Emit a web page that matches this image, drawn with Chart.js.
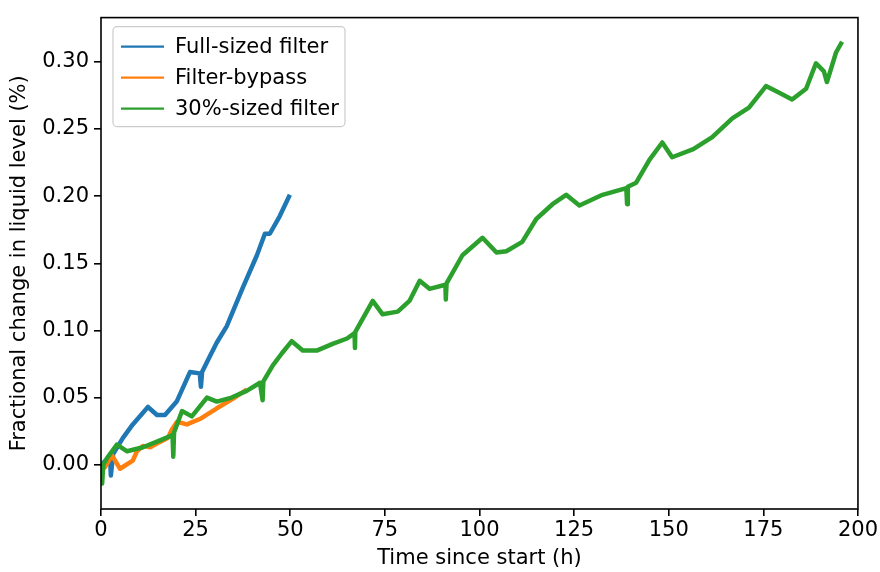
<!DOCTYPE html>
<html lang="en">
<head>
  <meta charset="UTF-8">
  <title>Fractional change in liquid level</title>
  <script src="https://cdn.jsdelivr.net/npm/chart.js"></script>
  <style>
    body {
      margin: 0;
      padding: 0;
      background-color: #ffffff;
    }
    .chart-container {
      width: 880px;
      height: 572px;
    }
  </style>
</head>
<body>
  <div class="chart-container">
    <canvas id="levelChart"></canvas>
  </div>

  <script>
    // values (time in h, change in %)
    const fullTime = [0, 1.2, 2.4, 2.6, 3.2, 5.8, 8.4, 12.4, 14.8, 16.9, 20, 23.5, 26.1, 26.4, 26.7, 28.8, 30.6, 33.2, 37.5, 41.2, 43.3, 44.6, 47.2, 49.9];
    const fullLevel = [0, 0.003, 0.006, -0.008, 0.008, 0.020, 0.030, 0.043, 0.037, 0.037, 0.047, 0.069, 0.068, 0.058, 0.069, 0.081, 0.091, 0.103, 0.132, 0.156, 0.172, 0.172, 0.185, 0.201];

    const bypassTime = [0, 1, 2.9, 5, 8.4, 9.5, 11.1, 13, 15.6, 17.7, 18.7, 20.1, 22.7, 26.1, 30.6, 34.8, 38.5];
    const bypassLevel = [0, -0.002, 0.007, -0.003, 0.003, 0.010, 0.014, 0.013, 0.017, 0.020, 0.026, 0.032, 0.030, 0.034, 0.042, 0.049, 0.056];

    const smallTime = [0, 0.3, 0.6, 1.6, 4.2, 6.9, 11.1, 16.4, 18.9, 19.1, 19.3, 21.4, 24, 28, 30.6, 34.5, 38.5, 42, 42.7, 42.9, 45.4, 47.8, 50.4, 53.3, 57, 61.2, 65, 67, 67.1, 67.2, 71.8, 74.4, 78.4, 81.5, 84.2, 86.8, 91, 91.1, 91.3, 95.5, 100.8, 104.5, 107.1, 111.3, 115, 119.3, 122.9, 126.4, 132.5, 138.8, 139, 139.2, 141.4, 144.9, 148.3, 150.9, 156.5, 161.5, 166.8, 171.2, 175.7, 179.2, 182.6, 186.3, 188.9, 191, 191.8, 194.2, 195.8];
    const smallLevel = [-0.002, -0.014, 0.000, 0.005, 0.015, 0.010, 0.013, 0.019, 0.022, 0.006, 0.024, 0.040, 0.036, 0.050, 0.047, 0.050, 0.055, 0.061, 0.048, 0.062, 0.074, 0.083, 0.092, 0.085, 0.085, 0.090, 0.094, 0.098, 0.087, 0.099, 0.122, 0.112, 0.114, 0.122, 0.137, 0.131, 0.134, 0.123, 0.135, 0.156, 0.169, 0.158, 0.159, 0.166, 0.183, 0.194, 0.201, 0.193, 0.201, 0.206, 0.194, 0.207, 0.210, 0.227, 0.240, 0.229, 0.235, 0.244, 0.258, 0.266, 0.282, 0.277, 0.272, 0.280, 0.299, 0.293, 0.285, 0.307, 0.315];

    const seriesNames = ['Full-sized filter', 'Filter-bypass', '30%-sized filter'];
    const seriesColors = ['#1f77b4', '#ff7f0e', '#2ca02c'];

    const xTicks = [0, 25, 50, 75, 100, 125, 150, 175, 200];
    const yTicks = [0, 0.05, 0.10, 0.15, 0.20, 0.25, 0.30];

    const toPoints = (xs, ys) => xs.map((x, i) => ({ x: x, y: ys[i] }));

    const FONT = "'DejaVu Sans', sans-serif";
    const FSIZE = 21;

    // matplotlib style frame around the plot
    const framePlugin = {
      id: 'frame',
      afterDraw(chart) {
        const a = chart.chartArea;
        const c = chart.ctx;
        c.save();
        c.strokeStyle = '#000';
        c.lineWidth = 1.6;
        c.strokeRect(a.left, a.top, a.right - a.left, a.bottom - a.top);
        c.restore();
      }
    };

    // legend box in the upper left corner of the plot
    const boxLegend = {
      id: 'boxLegend',
      afterDatasetsDraw(chart) {
        const a = chart.chartArea;
        const c = chart.ctx;
        const x0 = a.left + 12, y0 = a.top + 9;
        const w = 232, h = 100, row = 31;
        c.save();
        c.fillStyle = 'rgba(255,255,255,0.8)';
        c.strokeStyle = '#cccccc';
        c.lineWidth = 1.2;
        c.beginPath();
        c.roundRect(x0, y0, w, h, 4);
        c.fill();
        c.stroke();
        c.font = FSIZE + 'px ' + FONT;
        c.textBaseline = 'middle';
        chart.data.datasets.forEach((ds, i) => {
          const cy = y0 + 20 + i * row;
          c.strokeStyle = ds.borderColor;
          c.lineWidth = 2.2;
          c.beginPath();
          c.moveTo(x0 + 8, cy);
          c.lineTo(x0 + 51, cy);
          c.stroke();
          c.fillStyle = '#000';
          c.fillText(ds.label, x0 + 62, cy + 1);
        });
        c.restore();
      }
    };

    const ctx = document.getElementById('levelChart').getContext('2d');

    const levelChart = new Chart(ctx, {
      type: 'line',
      data: {
        datasets: [
          { label: seriesNames[0], data: toPoints(fullTime, fullLevel), borderColor: seriesColors[0], order: 3 },
          { label: seriesNames[1], data: toPoints(bypassTime, bypassLevel), borderColor: seriesColors[1], order: 2 },
          { label: seriesNames[2], data: toPoints(smallTime, smallLevel), borderColor: seriesColors[2], order: 1 }
        ]
      },
      options: {
        responsive: true,
        maintainAspectRatio: false,
        animation: false,
        layout: {
          padding: { top: 8, right: 21, left: 0, bottom: 0 }
        },
        elements: {
          line: { borderWidth: 4.5, tension: 0, borderJoinStyle: 'round' },
          point: { radius: 0 }
        },
        plugins: {
          legend: { display: false },
          tooltip: { enabled: false }
        },
        scales: {
          x: {
            type: 'linear',
            min: 0,
            max: 200,
            afterBuildTicks: s => { s.ticks = xTicks.map(v => ({ value: v })); },
            afterFit: s => { s.height = 63; },
            border: { display: false },
            grid: { drawOnChartArea: false, drawTicks: true, tickLength: 7, color: '#000', lineWidth: 1.6 },
            ticks: {
              color: '#000',
              padding: 2,
              maxRotation: 0,
              font: { family: FONT, size: FSIZE },
              callback: v => String(v)
            },
            title: {
              display: true,
              text: 'Time since start (h)',
              color: '#000',
              padding: { top: 0, bottom: 1 },
              font: { family: FONT, size: FSIZE }
            }
          },
          y: {
            type: 'linear',
            min: -0.033,
            max: 0.333,
            afterBuildTicks: s => { s.ticks = yTicks.map(v => ({ value: v })); },
            afterFit: s => { s.width = 101; },
            border: { display: false },
            grid: { drawOnChartArea: false, drawTicks: true, tickLength: 7, color: '#000', lineWidth: 1.6 },
            ticks: {
              color: '#000',
              padding: 5,
              font: { family: FONT, size: FSIZE },
              callback: v => v.toFixed(2)
            },
            title: {
              display: true,
              text: 'Fractional change in liquid level (%)',
              color: '#000',
              padding: { top: 7, bottom: 0 },
              font: { family: FONT, size: FSIZE }
            }
          }
        }
      },
      plugins: [boxLegend, framePlugin]
    });
  </script>
</body>
</html>
